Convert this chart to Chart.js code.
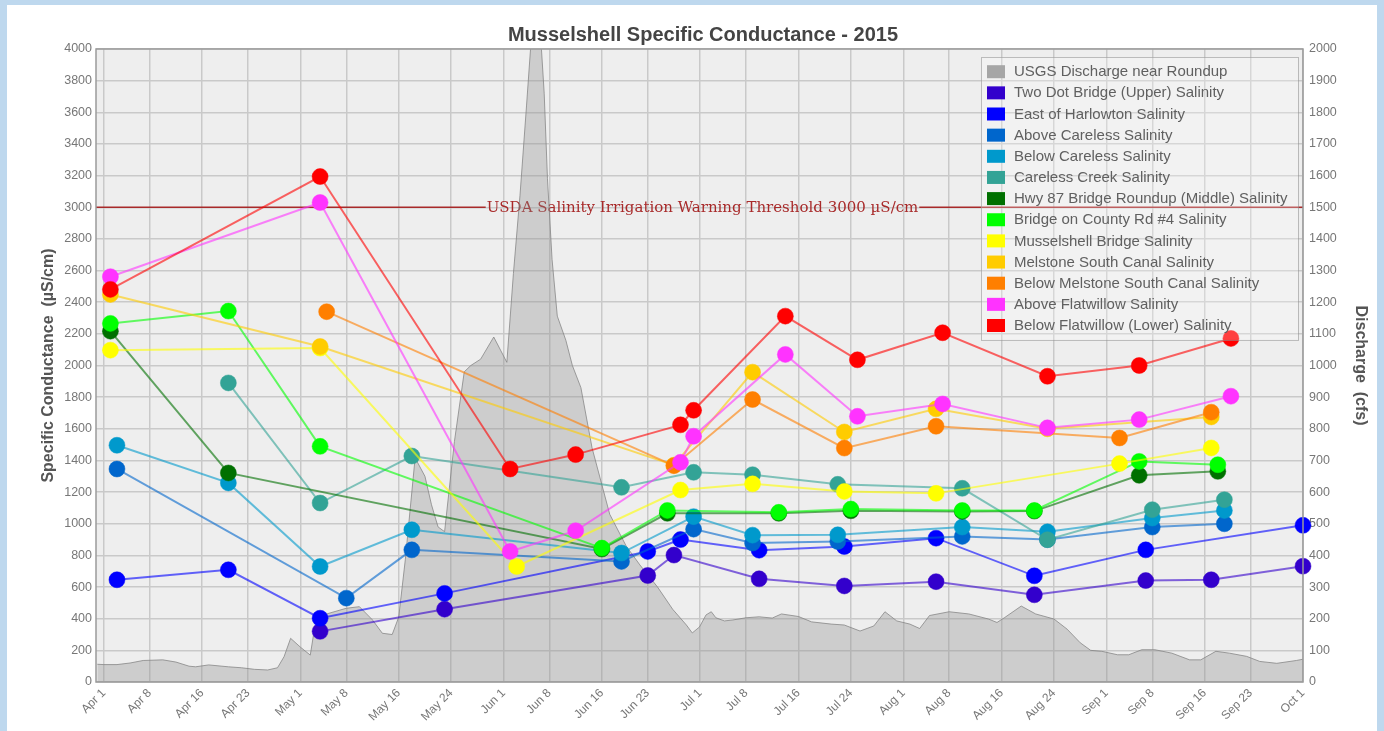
<!DOCTYPE html>
<html>
<head>
<meta charset="utf-8">
<title>Musselshell Specific Conductance - 2015</title>
<script src="https://cdn.jsdelivr.net/npm/chart.js@4.4.1/dist/chart.umd.min.js"></script>
<style>
  html, body { margin: 0; padding: 0; background: #bed8ee; }
  body { width: 1384px; height: 731px; position: relative; overflow: hidden; }
  #panel { position: absolute; left: 7px; top: 5px; width: 1370px; height: 740px; background: #fff; }
  #wrap { position: absolute; left: 0; top: 0; width: 1384px; height: 731px; }
</style>
</head>
<body>
<div id="panel"></div>
<div id="wrap"><canvas id="chart" width="1384" height="731"></canvas></div>
<script>
// --- data ---
const xTickDates = ['2015-04-01', '2015-04-08', '2015-04-16', '2015-04-23', '2015-05-01', '2015-05-08',
    '2015-05-16', '2015-05-24', '2015-06-01', '2015-06-08', '2015-06-16', '2015-06-23', '2015-07-01',
    '2015-07-08', '2015-07-16', '2015-07-24', '2015-08-01', '2015-08-08', '2015-08-16', '2015-08-24',
    '2015-09-01', '2015-09-08', '2015-09-16', '2015-09-23', '2015-10-01'];
const monthNames = ['Jan', 'Feb', 'Mar', 'Apr', 'May', 'Jun', 'Jul', 'Aug', 'Sep', 'Oct', 'Nov', 'Dec'];

// USGS discharge near Roundup, days after 1 Apr 2015 / cfs
const dischargeDay = [-1, 0, 2, 4, 6, 9, 11, 13, 14, 16, 19, 21, 23, 25, 26.5, 27.5, 28.5, 30, 31.5, 32, 34,
    37, 39, 41, 42.5, 44, 45, 46, 47.5, 49, 50, 51, 52, 53.5, 55, 56, 57.5, 59.5, 61.5, 62.5, 63.5, 64.5,
    66, 67.2, 67.7, 68.4, 69.2, 70.5, 71.5, 72.8, 74.5, 77.2, 79.7, 81.8, 84.5, 86.8, 88.9, 89.8, 90.9,
    91.9, 92.7, 93.4, 94.7, 96, 98, 100, 102, 103.4, 106, 108, 111, 113, 115.4, 117.5, 119.2, 121, 123,
    124.5, 126, 129, 132, 135, 136.3, 137.5, 140, 142.2, 145, 147, 149, 150.6, 152.3, 154.7, 156.4, 158.4,
    160.4, 163, 165.7, 167.4, 169.7, 171.8, 174.4, 176.4, 179, 182, 183];
const dischargeCfs = [56, 55, 55, 60, 68, 70, 63, 50, 48, 54, 48, 45, 40, 38, 45, 80, 138, 110, 85, 150, 215,
    233, 238, 196, 154, 150, 205, 386, 708, 650, 560, 490, 475, 760, 980, 1000, 1020, 1090, 1010, 1290, 1536, 1820,
    2260, 1860, 1590, 1335, 1156, 1080, 1000, 930, 740, 530, 430, 370, 300, 230, 180, 155, 174,
    212, 222, 203, 193, 196, 203, 206, 202, 215, 207, 190, 183, 180, 161, 177, 222, 193, 183,
    169, 210, 222, 215, 199, 188, 204, 240, 215, 199, 167, 124, 100, 97, 86, 86, 102,
    102, 91, 70, 70, 97, 91, 81, 65, 59, 68, 72];

// specific conductance samples (µS/cm)
const twoDotDates = ['2015-05-04', '2015-05-23', '2015-06-23', '2015-06-27', '2015-07-10', '2015-07-23',
    '2015-08-06', '2015-08-21', '2015-09-07', '2015-09-17', '2015-10-01'];
const twoDotValues = [320, 460, 673, 802, 652, 607, 634, 551, 641, 646, 732];

const harlowtonDates = ['2015-04-03', '2015-04-20', '2015-05-04', '2015-05-23', '2015-06-23', '2015-06-28',
    '2015-07-10', '2015-07-23', '2015-08-06', '2015-08-21', '2015-09-07', '2015-10-01'];
const harlowtonValues = [646, 709, 403, 560, 825, 900, 833, 856, 909, 671, 835, 990];

const aboveCarelessDates = ['2015-04-03', '2015-05-08', '2015-05-18', '2015-06-19', '2015-06-30', '2015-07-09',
    '2015-07-22', '2015-08-10', '2015-08-23', '2015-09-08', '2015-09-19'];
const aboveCarelessValues = [1346, 530, 835, 762, 966, 878, 888, 920, 900, 979, 1000];

const belowCarelessDates = ['2015-04-03', '2015-04-20', '2015-05-04', '2015-05-18', '2015-06-19', '2015-06-30',
    '2015-07-09', '2015-07-22', '2015-08-10', '2015-08-23', '2015-09-08', '2015-09-19'];
const belowCarelessValues = [1496, 1258, 730, 962, 815, 1045, 928, 930, 979, 949, 1036, 1084];

const carelessCreekDates = ['2015-04-20', '2015-05-04', '2015-05-18', '2015-06-19', '2015-06-30', '2015-07-09',
    '2015-07-22', '2015-08-10', '2015-08-23', '2015-09-08', '2015-09-19'];
const carelessCreekValues = [1890, 1131, 1428, 1230, 1325, 1310, 1249, 1224, 899, 1089, 1152];

const hwy87Dates = ['2015-04-02', '2015-04-20', '2015-06-16', '2015-06-26', '2015-07-13', '2015-07-24',
    '2015-08-10', '2015-08-21', '2015-09-06', '2015-09-18'];
const hwy87Values = [2217, 1321, 840, 1066, 1066, 1082, 1078, 1080, 1306, 1331];

const countyRdDates = ['2015-04-02', '2015-04-20', '2015-05-04', '2015-06-16', '2015-06-26', '2015-07-13',
    '2015-07-24', '2015-08-10', '2015-08-21', '2015-09-06', '2015-09-18'];
const countyRdValues = [2266, 2344, 1489, 846, 1084, 1072, 1093, 1084, 1084, 1394, 1373];

const musselshellDates = ['2015-04-02', '2015-05-04', '2015-06-03', '2015-06-28', '2015-07-09', '2015-07-23',
    '2015-08-06', '2015-09-03', '2015-09-17'];
const musselshellValues = [2097, 2110, 730, 1213, 1252, 1204, 1192, 1380, 1479];

const melstoneDates = ['2015-04-02', '2015-05-04', '2015-06-27', '2015-07-09', '2015-07-23', '2015-08-06',
    '2015-08-23', '2015-09-17'];
const melstoneValues = [2449, 2120, 1370, 1958, 1580, 1726, 1600, 1675];

const belowMelstoneDates = ['2015-05-05', '2015-06-27', '2015-07-09', '2015-07-23', '2015-08-06', '2015-09-03',
    '2015-09-17'];
const belowMelstoneValues = [2340, 1367, 1785, 1478, 1616, 1542, 1705];

const aboveFlatwillowDates = ['2015-04-02', '2015-05-04', '2015-06-02', '2015-06-12', '2015-06-28', '2015-06-30',
    '2015-07-14', '2015-07-25', '2015-08-07', '2015-08-23', '2015-09-06', '2015-09-20'];
const aboveFlatwillowValues = [2561, 3030, 825, 956, 1388, 1553, 2070, 1679, 1757, 1606, 1658, 1806];

const belowFlatwillowDates = ['2015-04-02', '2015-05-04', '2015-06-02', '2015-06-12', '2015-06-28', '2015-06-30',
    '2015-07-14', '2015-07-25', '2015-08-07', '2015-08-23', '2015-09-06', '2015-09-20'];
const belowFlatwillowValues = [2481, 3194, 1346, 1437, 1625, 1717, 2312, 2036, 2207, 1932, 2000, 2171];

const thresholdValue = 3000;
const thresholdText = 'USDA Salinity Irrigation Warning Threshold 3000 µS/cm';

// --- helpers ---
const START = Date.UTC(2015, 3, 1);
function dayOf(iso) {
    const p = iso.split('-').map(Number);
    return (Date.UTC(p[0], p[1] - 1, p[2]) - START) / 86400000;
}
function tickLabel(iso) {
    const p = iso.split('-').map(Number);
    return monthNames[p[1] - 1] + ' ' + p[2];
}
function rgba(hex, a) {
    const n = parseInt(hex.slice(1), 16);
    return 'rgba(' + (n >> 16) + ',' + ((n >> 8) & 255) + ',' + (n & 255) + ',' + a + ')';
}

const FONT = "'Liberation Sans', Arial, sans-serif";
const xTickDays = xTickDates.map(dayOf);

const sites = [
    { label: 'Two Dot Bridge (Upper) Salinity', color: '#3300cc', dates: twoDotDates, values: twoDotValues },
    { label: 'East of Harlowton Salinity', color: '#0000ff', dates: harlowtonDates, values: harlowtonValues },
    { label: 'Above Careless Salinity', color: '#0066cc', dates: aboveCarelessDates, values: aboveCarelessValues },
    { label: 'Below Careless Salinity', color: '#0099cc', dates: belowCarelessDates, values: belowCarelessValues },
    { label: 'Careless Creek Salinity', color: '#33a396', dates: carelessCreekDates, values: carelessCreekValues },
    { label: 'Hwy 87 Bridge Roundup (Middle) Salinity', color: '#007000', dates: hwy87Dates, values: hwy87Values },
    { label: 'Bridge on County Rd #4 Salinity', color: '#00ff00', dates: countyRdDates, values: countyRdValues },
    { label: 'Musselshell Bridge Salinity', color: '#ffff00', dates: musselshellDates, values: musselshellValues },
    { label: 'Melstone South Canal Salinity', color: '#ffcc00', dates: melstoneDates, values: melstoneValues },
    { label: 'Below Melstone South Canal Salinity', color: '#ff7f00', dates: belowMelstoneDates, values: belowMelstoneValues },
    { label: 'Above Flatwillow Salinity', color: '#ff33ff', dates: aboveFlatwillowDates, values: aboveFlatwillowValues },
    { label: 'Below Flatwillow (Lower) Salinity', color: '#ff0000', dates: belowFlatwillowDates, values: belowFlatwillowValues }
];

const datasets = [{
    label: 'USGS Discharge near Roundup',
    legendColor: '#a6a6a6',
    yAxisID: 'y2',
    data: dischargeDay.map((d, i) => ({ x: d, y: dischargeCfs[i] })),
    fill: 'origin',
    backgroundColor: 'rgba(140,140,140,0.33)',
    borderColor: 'rgba(130,130,130,0.75)',
    borderWidth: 1,
    pointRadius: 0,
    tension: 0,
    order: 100
}];
sites.forEach((s, i) => {
    datasets.push({
        label: s.label,
        legendColor: s.color,
        yAxisID: 'y',
        data: s.dates.map((d, j) => ({ x: dayOf(d), y: s.values[j] })),
        borderColor: rgba(s.color, 0.6),
        borderWidth: 2,
        pointRadius: 8,
        pointBorderWidth: 1,
        pointBackgroundColor: s.color,
        pointBorderColor: rgba(s.color, 0.5),
        tension: 0,
        clip: false,
        order: 50 - i
    });
});

// plot background, threshold line, frame, legend box
const decor = {
    id: 'decor',
    beforeDraw(chart) {
        const a = chart.chartArea, ctx = chart.ctx;
        ctx.save();
        ctx.fillStyle = '#eeeeee';
        ctx.fillRect(a.left, a.top, a.right - a.left, a.bottom - a.top);
        ctx.restore();
    },
    beforeDatasetsDraw(chart) {
        const a = chart.chartArea, ctx = chart.ctx;
        const y = chart.scales.y.getPixelForValue(thresholdValue);
        ctx.save();
        ctx.font = "15px 'DejaVu Serif', 'Liberation Serif', serif";
        const w = ctx.measureText(thresholdText).width;
        const cx = (a.left + a.right) / 2 + 3;
        ctx.strokeStyle = '#a82a2a';
        ctx.lineWidth = 1.5;
        ctx.beginPath();
        ctx.moveTo(a.left, y); ctx.lineTo(cx - w / 2 - 1, y);
        ctx.moveTo(cx + w / 2 + 1, y); ctx.lineTo(a.right, y);
        ctx.stroke();
        ctx.fillStyle = '#a82a2a';
        ctx.textAlign = 'center';
        ctx.textBaseline = 'middle';
        ctx.fillText(thresholdText, cx, y + 1);
        ctx.restore();
    },
    afterDatasetsDraw(chart) {
        const a = chart.chartArea, ctx = chart.ctx;
        ctx.save();
        ctx.strokeStyle = '#9a9a9a';
        ctx.lineWidth = 1.5;
        ctx.strokeRect(a.left, a.top, a.right - a.left, a.bottom - a.top);

        // legend box
        const items = chart.data.datasets;
        const rowH = 21.15;
        const bx = a.right - 322, by = a.top + 8, bw = 317, bh = items.length * rowH + 8;
        ctx.fillStyle = 'rgba(255,255,255,0.25)';
        ctx.fillRect(bx, by, bw, bh);
        ctx.strokeStyle = 'rgba(150,150,150,0.6)';
        ctx.lineWidth = 1;
        ctx.strokeRect(bx + 0.5, by + 0.5, bw, bh);
        ctx.font = '15px ' + FONT;
        ctx.textBaseline = 'middle';
        ctx.textAlign = 'left';
        items.forEach((ds, i) => {
            const cy = by + 14.7 + i * rowH;
            ctx.fillStyle = ds.legendColor;
            ctx.fillRect(bx + 6, cy - 6.5, 18, 13);
            ctx.fillStyle = '#606060';
            ctx.fillText(ds.label, bx + 33, cy + 0.5);
        });
        ctx.restore();
    }
};

new Chart(document.getElementById('chart'), {
    type: 'line',
    data: { datasets: datasets },
    options: {
        responsive: false,
        animation: false,
        devicePixelRatio: 1,
        layout: { padding: { left: 30, right: 8, top: 0, bottom: 0 } },
        plugins: {
            legend: { display: false },
            tooltip: { enabled: false },
            title: {
                display: true,
                text: 'Musselshell Specific Conductance - 2015',
                color: '#444',
                font: { family: FONT, size: 20, weight: 'bold' },
                padding: { top: 23, bottom: 2 }
            }
        },
        scales: {
            x: {
                type: 'linear',
                min: -1.2,
                max: 183,
                afterBuildTicks: (scale) => { scale.ticks = xTickDays.map(v => ({ value: v })); },
                afterFit: (scale) => { scale.height = 49; },
                grid: { color: '#c9c9c9', lineWidth: 1.5, drawTicks: false },
                border: { display: false },
                ticks: {
                    autoSkip: false,
                    maxRotation: 45,
                    minRotation: 45,
                    padding: 4,
                    color: '#777',
                    font: { family: FONT, size: 12 },
                    callback: (v, i) => tickLabel(xTickDates[i])
                }
            },
            y: {
                position: 'left',
                min: 0,
                max: 4000,
                afterFit: (scale) => { scale.width = 66; },
                grid: { color: '#c9c9c9', lineWidth: 1.5, drawTicks: false },
                border: { display: false },
                ticks: {
                    stepSize: 200, padding: 4, color: '#777',
                    font: { family: FONT, size: 12.5 },
                    callback: (v) => String(v)
                },
                title: {
                    display: true,
                    text: 'Specific Conductance  (µS/cm)',
                    color: '#555',
                    font: { family: FONT, size: 16, weight: 'bold' },
                    padding: { top: 9, bottom: 0 }
                }
            },
            y2: {
                position: 'right',
                min: 0,
                max: 2000,
                afterFit: (scale) => { scale.width = 73; },
                grid: { display: false, drawTicks: false },
                border: { display: false },
                ticks: {
                    stepSize: 100, padding: 6, color: '#777',
                    font: { family: FONT, size: 12.5 },
                    callback: (v) => String(v)
                },
                title: {
                    display: true,
                    text: 'Discharge  (cfs)',
                    color: '#555',
                    font: { family: FONT, size: 16, weight: 'bold' },
                    padding: { top: 6, bottom: 0 }
                }
            }
        }
    },
    plugins: [decor]
});
</script>
</body>
</html>
